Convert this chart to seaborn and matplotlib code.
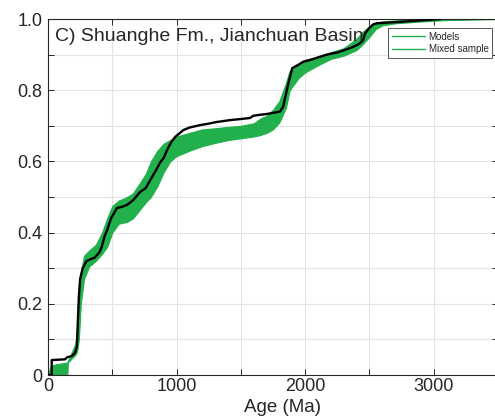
import numpy as np
import pandas as pd
import matplotlib
matplotlib.use("Agg")
import matplotlib.pyplot as plt
from matplotlib.lines import Line2D
import seaborn as sns

# Cumulative age distribution of the mixed detrital zircon sample
mixed_age = [0, 29, 29, 132, 150, 184, 210, 225, 232, 240, 250, 270, 300, 330, 365,
             400, 418, 440, 460, 490, 537, 580, 615, 660, 716, 760, 809, 840,
             872, 900, 926, 960, 990, 1053, 1100, 1183, 1250, 1300, 1416, 1500,
             1572, 1595, 1650, 1700, 1760, 1805, 1830, 1845, 1870, 1900, 1950,
             1985, 2050, 2100, 2170, 2250, 2300, 2375, 2420, 2450, 2467, 2500,
             2530, 2558, 2650, 2740, 2900, 3050]
mixed_cdf = [0.0, 0.0, 0.042, 0.044, 0.05, 0.053, 0.062, 0.08, 0.15, 0.22, 0.27, 0.30,
             0.32, 0.325, 0.33, 0.345, 0.36, 0.39, 0.407, 0.44, 0.469, 0.473,
             0.478, 0.49, 0.514, 0.525, 0.556, 0.575, 0.597, 0.61, 0.632, 0.655,
             0.669, 0.688, 0.695, 0.702, 0.706, 0.71, 0.716, 0.719, 0.722, 0.728,
             0.731, 0.733, 0.737, 0.74, 0.755, 0.78, 0.82, 0.862, 0.872, 0.88,
             0.886, 0.892, 0.90, 0.906, 0.912, 0.922, 0.93, 0.94, 0.96, 0.975,
             0.985, 0.988, 0.99, 0.992, 0.996, 1.0]

# Envelope of the modelled mixture CDFs
model_age = [0, 20, 60, 150, 155, 180, 210, 225, 240, 255, 280, 320, 370, 420,
             460, 500, 550, 615, 660, 716, 760, 800, 850, 900, 950, 1000, 1100,
             1200, 1300, 1400, 1500, 1600, 1650, 1700, 1750, 1800, 1850, 1880,
             1950, 2000, 2100, 2200, 2300, 2400, 2450, 2500, 2550, 2600, 2700,
             2900, 3100, 3500]
model_hi = [0.0, 0.025, 0.03, 0.035, 0.04, 0.06, 0.085, 0.12, 0.22, 0.29, 0.335,
            0.35, 0.365, 0.40, 0.44, 0.475, 0.49, 0.50, 0.51, 0.54, 0.565, 0.60,
            0.63, 0.65, 0.66, 0.67, 0.68, 0.69, 0.693, 0.697, 0.70, 0.707, 0.72,
            0.728, 0.745, 0.77, 0.82, 0.855, 0.875, 0.885, 0.895, 0.907, 0.918,
            0.945, 0.965, 0.98, 0.99, 0.993, 0.996, 1.0, 1.0, 1.0]
model_lo = [0.0, 0.0, 0.0, 0.0, 0.035, 0.045, 0.055, 0.065, 0.10, 0.20, 0.27,
            0.305, 0.32, 0.34, 0.36, 0.40, 0.425, 0.43, 0.44, 0.465, 0.485, 0.50,
            0.53, 0.57, 0.60, 0.615, 0.63, 0.643, 0.652, 0.66, 0.665, 0.67,
            0.674, 0.68, 0.69, 0.71, 0.75, 0.80, 0.835, 0.85, 0.87, 0.888, 0.897,
            0.913, 0.93, 0.95, 0.972, 0.982, 0.988, 0.993, 0.997, 1.0]

x_ticks = [0, 1000, 2000, 3000]
y_ticks = [0, 0.2, 0.4, 0.6, 0.8, 1.0]
y_tick_labels = ["0", "0.2", "0.4", "0.6", "0.8", "1.0"]
panel_title = "C) Shuanghe Fm., Jianchuan Basin"
legend_labels = ["Models", "Mixed sample"]

GREEN = "#21b04b"
DARK = "#262626"

sns.set_theme(style="white")
plt.rcParams["font.family"] = ["Liberation Sans", "DejaVu Sans"]

fig = plt.figure(figsize=(4.95, 4.17), dpi=100)
ax = fig.add_axes([48 / 495, 42 / 417, 450 / 495, 356 / 417])

ax.fill_between(model_age, model_lo, model_hi, color=GREEN, lw=0.8,
                edgecolor=GREEN, zorder=2)

mixed = pd.DataFrame({"age": mixed_age, "cdf": mixed_cdf})
sns.lineplot(data=mixed, x="age", y="cdf", ax=ax, color="black", lw=1.7,
             sort=False, estimator=None, zorder=3)

ax.set_xlim(0, 3500)
ax.set_ylim(0, 1.0)
ax.set_xticks(x_ticks)
ax.set_xticklabels([str(t) for t in x_ticks])
ax.set_yticks(y_ticks)
ax.set_yticklabels(y_tick_labels)
ax.set_xticks(np.arange(500, 3500, 1000), minor=True)
ax.set_yticks(np.arange(0.1, 1.0, 0.2), minor=True)

ax.grid(True, which="both", color="#e3e3e3", lw=0.8, zorder=0)
ax.set_axisbelow(True)
for s in ax.spines.values():
    s.set_color(DARK)
    s.set_linewidth(0.8)

ax.tick_params(which="both", direction="in", length=4, width=0.7,
               color=DARK, labelcolor=DARK, labelsize=13,
               top=True, right=True, bottom=True, left=True)
ax.tick_params(axis="y", pad=4)
ax.tick_params(axis="x", pad=2.5)

ax.set_xlabel("Age (Ma)", fontsize=13.5, color=DARK, labelpad=0)
ax.xaxis.set_label_coords(0.52, -0.067)
ax.set_ylabel("")

ax.text(0.016, 0.95, panel_title, transform=ax.transAxes, fontsize=14,
        color=DARK, ha="left", va="center", zorder=4)

handles = [Line2D([], [], color=GREEN, lw=1.0) for _ in legend_labels]
leg = ax.legend(handles, legend_labels, loc="upper left",
                bbox_to_anchor=(0.755, 0.975), fontsize=7, frameon=True,
                fancybox=False, framealpha=1, edgecolor="#555555",
                handlelength=3.4, handletextpad=0.4, borderpad=0.4,
                labelspacing=0.25, borderaxespad=0)
leg.get_frame().set_linewidth(0.7)
for t in leg.get_texts():
    t.set_color(DARK)

fig.savefig("out.png", dpi=100)
